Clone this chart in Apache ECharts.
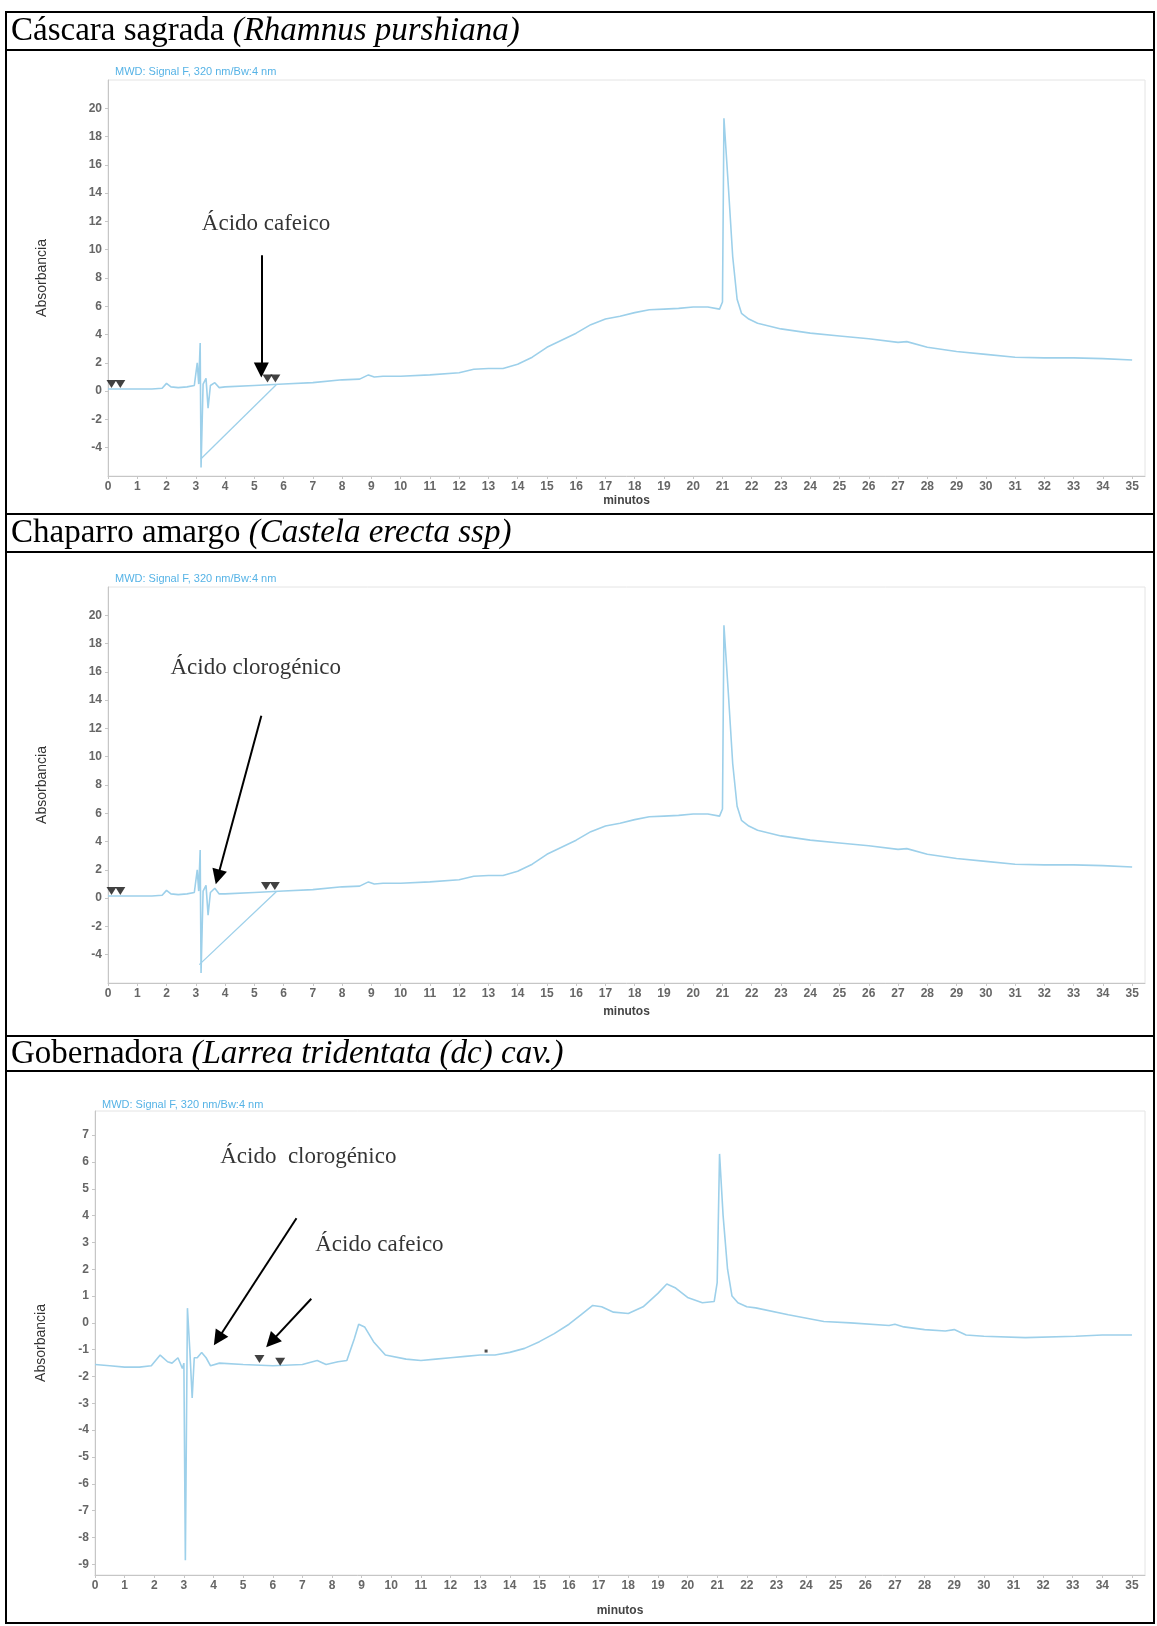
<!DOCTYPE html>
<html><head><meta charset="utf-8">
<script src="https://cdn.jsdelivr.net/npm/echarts@6/dist/echarts.min.js"></script>
<style>html,body{margin:0;padding:0;background:#fff}#c{width:1157px;height:1626px}</style>
</head><body><div id="c"></div>
<script>
// ---------- DATA ----------
const xTicks = [0,1,2,3,4,5,6,7,8,9,10,11,12,13,14,15,16,17,18,19,20,21,22,23,24,25,26,27,28,29,30,31,32,33,34,35];
const yTicksAB = [-4,-2,0,2,4,6,8,10,12,14,16,18,20];
const yTicksC = [-9,-8,-7,-6,-5,-4,-3,-2,-1,0,1,2,3,4,5,6,7];

const panelTitles = [
  ['Cáscara sagrada ', '(Rhamnus purshiana)'],
  ['Chaparro amargo ', '(Castela erecta ssp)'],
  ['Gobernadora ', '(Larrea tridentata (dc) cav.)']
];
const signalLabel = 'MWD: Signal F, 320 nm/Bw:4 nm';

const cascaraT = [0,0.5,1,1.5,1.85,2.0,2.15,2.4,2.7,2.95,3.05,3.1,3.15,3.18,3.25,3.35,3.42,3.5,3.65,3.8,4.0,5,6,7,8,8.6,8.9,9.1,9.4,10,11,12,12.5,13,13.5,14,14.5,15,15.5,16,16.5,17,17.5,18,18.5,19,19.5,20,20.5,20.9,21.0,21.05,21.2,21.35,21.5,21.65,21.9,22.2,23,24,25,26,27,27.3,28,29,30,31,32,33,34,35];
const cascaraA = [0.15,0.15,0.15,0.15,0.2,0.55,0.3,0.25,0.3,0.4,2.0,0.5,3.4,-5.4,0.5,0.9,-1.2,0.4,0.6,0.25,0.3,0.4,0.5,0.6,0.8,0.85,1.15,1.0,1.05,1.05,1.15,1.3,1.55,1.6,1.6,1.9,2.4,3.1,3.6,4.1,4.7,5.1,5.3,5.55,5.75,5.8,5.85,5.95,5.95,5.8,6.3,19.3,14.5,9.5,6.5,5.5,5.1,4.8,4.4,4.1,3.9,3.7,3.45,3.5,3.1,2.8,2.6,2.4,2.35,2.35,2.3,2.2];
const cascaraMarks = [[0.12,0.5],[0.42,0.5],[5.45,0.9],[5.72,0.9]];
const cascaraBaseline = [[3.17,-4.8],[5.75,0.45]];

const chaparroT = [0,0.5,1,1.5,1.85,2.0,2.15,2.4,2.7,2.95,3.05,3.1,3.15,3.18,3.25,3.35,3.42,3.5,3.65,3.8,4.0,5,6,7,8,8.6,8.9,9.1,9.4,10,11,12,12.5,13,13.5,14,14.5,15,15.5,16,16.5,17,17.5,18,18.5,19,19.5,20,20.5,20.9,21.0,21.05,21.2,21.35,21.5,21.65,21.9,22.2,23,24,25,26,27,27.3,28,29,30,31,32,33,34,35];
const chaparroA = [0.15,0.15,0.15,0.15,0.2,0.55,0.3,0.25,0.3,0.4,2.0,0.5,3.4,-5.3,0.5,0.9,-1.2,0.4,0.7,0.3,0.3,0.4,0.5,0.6,0.8,0.85,1.15,1.0,1.05,1.05,1.15,1.3,1.55,1.6,1.6,1.9,2.4,3.1,3.6,4.1,4.7,5.1,5.3,5.55,5.75,5.8,5.85,5.95,5.95,5.8,6.3,19.3,14.5,9.5,6.5,5.5,5.1,4.8,4.4,4.1,3.9,3.7,3.45,3.5,3.1,2.8,2.6,2.4,2.35,2.35,2.3,2.2];
const chaparroMarks = [[0.12,0.5],[0.42,0.5],[5.4,0.85],[5.7,0.85]];
const chaparroBaseline = [[3.12,-4.7],[5.75,0.45]];

const gobernadoraT = [0,0.5,1,1.5,1.9,2.2,2.45,2.6,2.8,2.95,3.0,3.05,3.12,3.2,3.28,3.35,3.45,3.6,3.75,3.9,4.2,5,6,7,7.5,7.8,8.2,8.5,8.75,8.9,9.1,9.4,9.8,10.5,11,11.5,12,12.5,13,13.5,14,14.5,15,15.5,16,16.4,16.8,17.1,17.5,18,18.5,19,19.3,19.6,20,20.5,20.9,21.0,21.08,21.2,21.35,21.5,21.7,22,22.3,23.4,24.6,25.5,26.8,27.0,27.3,28,28.7,29.0,29.4,30,31.4,33.1,34,35];
const gobernadoraA = [-1.55,-1.6,-1.65,-1.65,-1.6,-1.2,-1.45,-1.5,-1.3,-1.7,-1.5,-8.85,0.55,-1.0,-2.8,-1.3,-1.3,-1.1,-1.3,-1.6,-1.5,-1.55,-1.6,-1.55,-1.4,-1.55,-1.45,-1.4,-0.6,-0.05,-0.15,-0.7,-1.2,-1.35,-1.4,-1.35,-1.3,-1.25,-1.2,-1.2,-1.1,-0.95,-0.7,-0.4,-0.05,0.3,0.65,0.6,0.4,0.35,0.6,1.1,1.45,1.3,0.95,0.75,0.8,1.5,6.3,4.0,2.0,1.0,0.75,0.6,0.56,0.3,0.05,0.0,-0.1,-0.05,-0.15,-0.25,-0.3,-0.25,-0.45,-0.5,-0.55,-0.5,-0.45,-0.45];
const gobernadoraMarks = [[5.55,-1.35],[6.25,-1.45]];
const gobernadoraDot = [[13.2,-1.05]];

// annotations: [text, textX, textY, arrowFromX, arrowFromY, arrowToX, arrowToY]
const cascaraNotes = [['Ácido cafeico', 5.4, 11.8, 5.24, 9.6, 5.24, 1.5]];
const chaparroNotes = [['Ácido clorogénico', 5.05, 16.3, 5.24, 12.9, 3.75, 1.5]];
const gobernadoraNotes = [
  ['Ácido  clorogénico', 7.2, 6.2, 6.8, 3.9, 4.15, -0.6],
  ['Ácido cafeico', 9.6, 2.9, 7.3, 0.9, 5.95, -0.7]
];

// ---------- LAYOUT ----------
const grids = [
  {left:108, top:80, width:1037, height:396, xmax:35.44, ymin:-6, ymax:22, yticks:yTicksAB, nameGap:59, xGap:19, mwdX:115, mwdY:72},
  {left:108, top:587, width:1037, height:396, xmax:35.44, ymin:-6, ymax:22, yticks:yTicksAB, nameGap:59, xGap:23, mwdX:115, mwdY:579},
  {left:95, top:1111, width:1050, height:464, xmax:35.44, ymin:-9.4, ymax:7.9, yticks:yTicksC, nameGap:47, xGap:30, mwdX:102, mwdY:1105}
];
const rowLines = [50, 514, 552, 1036, 1071];
const titleY = [31, 533, 1054];

const zip = (t, a) => t.map((v, i) => [v, a[i]]);
const traceColor = '#9dd0ea';
const axisColor = '#c6c6c6';
const tickFont = {color:'#666', fontSize:12, fontWeight:'bold', fontFamily:'Liberation Sans'};

const option = {
  animation: false,
  backgroundColor: '#fff',
  grid: grids.map(g => ({left:g.left, top:g.top, width:g.width, height:g.height, show:true, borderColor:'#e4e4e4', borderWidth:1})),
  xAxis: grids.map((g, i) => ({
    gridIndex:i, type:'value', min:0, max:g.xmax,
    axisLine:{show:true, onZero:false, lineStyle:{color:axisColor}},
    axisTick:{show:true, customValues:xTicks, length:3, lineStyle:{color:axisColor}},
    axisLabel:Object.assign({customValues:xTicks, margin:5}, tickFont),
    splitLine:{show:false},
    name:'minutos', nameLocation:'middle', nameGap:g.xGap,
    nameTextStyle:{color:'#444', fontSize:12, fontWeight:'bold', fontFamily:'Liberation Sans'}
  })),
  yAxis: grids.map((g, i) => ({
    gridIndex:i, type:'value', min:g.ymin, max:g.ymax,
    axisLine:{show:true, onZero:false, lineStyle:{color:axisColor}},
    axisTick:{show:true, customValues:g.yticks, length:3, lineStyle:{color:axisColor}},
    axisLabel:Object.assign({customValues:g.yticks, margin:6}, tickFont),
    splitLine:{show:false},
    name:'Absorbancia', nameLocation:'middle', nameRotate:90, nameGap:g.nameGap,
    nameTextStyle:{color:'#333', fontSize:14, fontFamily:"'Liberation Sans Narrow', 'Liberation Sans', sans-serif"}
  })),
  series: [],
  graphic: []
};

function addPanel(i, t, a, marks, baseline, notes, dots) {
  option.series.push({type:'line', xAxisIndex:i, yAxisIndex:i, data:zip(t, a), showSymbol:false, symbol:'none',
    lineStyle:{color:traceColor, width:1.6}, silent:true, z:3});
  if (baseline) option.series.push({type:'line', xAxisIndex:i, yAxisIndex:i, data:baseline, showSymbol:false, symbol:'none',
    lineStyle:{color:traceColor, width:1.3}, silent:true, z:3});
  option.series.push({type:'scatter', xAxisIndex:i, yAxisIndex:i, data:marks, symbol:'triangle', symbolRotate:180,
    symbolSize:[10,8], itemStyle:{color:'#111'}, silent:true, z:4});
  if (dots) option.series.push({type:'scatter', xAxisIndex:i, yAxisIndex:i, data:dots, symbol:'rect',
    symbolSize:[3,3], itemStyle:{color:'#222'}, silent:true, z:4});
  option.series.push({
    type:'scatter', xAxisIndex:i, yAxisIndex:i, symbolSize:0, silent:true, z:6,
    data: notes.map(n => ({name:n[0], value:[n[1], n[2]]})),
    label:{show:true, formatter:'{b}', position:'inside', color:'#000', fontSize:23, fontFamily:'Liberation Serif'},
    markLine:{silent:true, symbol:['none','triangle'], symbolSize:15, animation:false,
      lineStyle:{color:'#000', width:2, type:'solid'}, itemStyle:{color:'#000'}, label:{show:false},
      data: notes.map(n => [{coord:[n[3], n[4]]}, {coord:[n[5], n[6]]}])}
  });
}
addPanel(0, cascaraT, cascaraA, cascaraMarks, cascaraBaseline, cascaraNotes);
addPanel(1, chaparroT, chaparroA, chaparroMarks, chaparroBaseline, chaparroNotes);
addPanel(2, gobernadoraT, gobernadoraA, gobernadoraMarks, null, gobernadoraNotes, gobernadoraDot);

// table borders and titles
option.graphic.push({type:'rect', shape:{x:6, y:12, width:1148, height:1611}, style:{fill:'none', stroke:'#000', lineWidth:2}, z:10, silent:true});
rowLines.forEach(y => option.graphic.push({type:'line', shape:{x1:6, y1:y, x2:1154, y2:y}, style:{stroke:'#000', lineWidth:2}, z:10, silent:true}));
panelTitles.forEach((p, i) => option.graphic.push({
  type:'text', x:11, y:titleY[i], z:10, silent:true,
  style:{text:'{n|' + p[0] + '}{it|' + p[1] + '}', verticalAlign:'middle',
    rich:{n:{fontFamily:'Liberation Serif', fontSize:33, fill:'#000'}, it:{fontFamily:'Liberation Serif', fontSize:33, fontStyle:'italic', fill:'#000'}}}
}));
grids.forEach(g => option.graphic.push({
  type:'text', x:g.mwdX, y:g.mwdY, z:10, silent:true,
  style:{text:signalLabel, fill:'#56b3e6', fontSize:11, fontFamily:'Liberation Sans', verticalAlign:'middle'}
}));

const chart = echarts.init(document.getElementById('c'), null, {renderer:'canvas'});
chart.setOption(option);
</script>
</body></html>
